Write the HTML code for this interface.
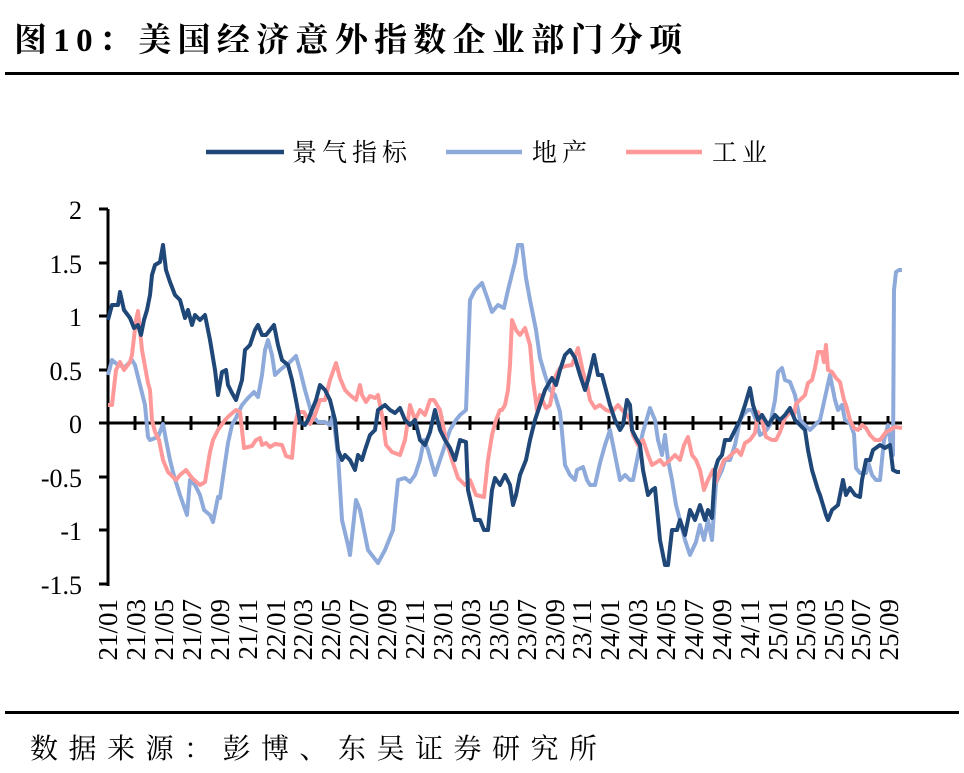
<!DOCTYPE html>
<html><head><meta charset="utf-8"><style>
body{margin:0;background:#fff;}
svg{display:block;}
</style></head><body>
<svg width="964" height="773" xmlns="http://www.w3.org/2000/svg" font-family="'Liberation Serif','Noto Serif CJK SC',serif">
<text x="14" y="51" font-size="33" font-weight="bold" letter-spacing="6.3" fill="#000" font-family="'Liberation Serif','Noto Serif CJK SC',serif">图10：美国经济意外指数企业部门分项</text>
<rect x="5" y="72" width="954" height="3" fill="#000"/>
<rect x="5" y="711" width="954" height="3" fill="#000"/>
<text x="30" y="758" font-size="28" letter-spacing="10.5" fill="#000">数据来源：彭博、东吴证券研究所</text>

<g font-size="25" letter-spacing="5">
<line x1="206" y1="152" x2="284" y2="152" stroke="#1f4778" stroke-width="4.5"/>
<text x="292" y="161">景气指标</text>
<line x1="446" y1="152" x2="522" y2="152" stroke="#8eaadb" stroke-width="4.5"/>
<text x="532" y="161">地产</text>
<line x1="626" y1="152" x2="702" y2="152" stroke="#ff9999" stroke-width="4.5"/>
<text x="712" y="161">工业</text>
</g>

<g font-size="26" text-anchor="end">
<text x="82" y="219">2</text>
<text x="82" y="273">1.5</text>
<text x="82" y="326">1</text>
<text x="82" y="380">0.5</text>
<text x="82" y="433">0</text>
<text x="82" y="487">-0.5</text>
<text x="82" y="540">-1</text>
<text x="82" y="594">-1.5</text>
</g>
<g stroke="#000" stroke-width="3">
<line x1="108" y1="209" x2="108" y2="586"/>
<line x1="99" y1="209" x2="108" y2="209"/>
<line x1="99" y1="263" x2="108" y2="263"/>
<line x1="99" y1="316" x2="108" y2="316"/>
<line x1="99" y1="370" x2="108" y2="370"/>
<line x1="99" y1="477" x2="108" y2="477"/>
<line x1="99" y1="530" x2="108" y2="530"/>
<line x1="99" y1="584" x2="108" y2="584"/>
<line x1="99" y1="423" x2="902" y2="423"/>
</g>
<g stroke="#000" stroke-width="3">
<line x1="135" y1="416" x2="135" y2="430"/><line x1="163" y1="416" x2="163" y2="430"/><line x1="191" y1="416" x2="191" y2="430"/><line x1="219" y1="416" x2="219" y2="430"/><line x1="247" y1="416" x2="247" y2="430"/><line x1="275" y1="416" x2="275" y2="430"/><line x1="302" y1="416" x2="302" y2="430"/><line x1="330" y1="416" x2="330" y2="430"/><line x1="358" y1="416" x2="358" y2="430"/><line x1="386" y1="416" x2="386" y2="430"/><line x1="414" y1="416" x2="414" y2="430"/><line x1="442" y1="416" x2="442" y2="430"/><line x1="470" y1="416" x2="470" y2="430"/><line x1="498" y1="416" x2="498" y2="430"/><line x1="526" y1="416" x2="526" y2="430"/><line x1="554" y1="416" x2="554" y2="430"/><line x1="581" y1="416" x2="581" y2="430"/><line x1="609" y1="416" x2="609" y2="430"/><line x1="637" y1="416" x2="637" y2="430"/><line x1="665" y1="416" x2="665" y2="430"/><line x1="693" y1="416" x2="693" y2="430"/><line x1="721" y1="416" x2="721" y2="430"/><line x1="749" y1="416" x2="749" y2="430"/><line x1="777" y1="416" x2="777" y2="430"/><line x1="805" y1="416" x2="805" y2="430"/><line x1="833" y1="416" x2="833" y2="430"/><line x1="860" y1="416" x2="860" y2="430"/><line x1="888" y1="416" x2="888" y2="430"/>
</g>
<g font-size="27" text-anchor="end">
<text transform="translate(117,599) rotate(-90)">21/01</text>
<text transform="translate(145,599) rotate(-90)">21/03</text>
<text transform="translate(173,599) rotate(-90)">21/05</text>
<text transform="translate(201,599) rotate(-90)">21/07</text>
<text transform="translate(229,599) rotate(-90)">21/09</text>
<text transform="translate(257,599) rotate(-90)">21/11</text>
<text transform="translate(285,599) rotate(-90)">22/01</text>
<text transform="translate(312,599) rotate(-90)">22/03</text>
<text transform="translate(340,599) rotate(-90)">22/05</text>
<text transform="translate(368,599) rotate(-90)">22/07</text>
<text transform="translate(396,599) rotate(-90)">22/09</text>
<text transform="translate(424,599) rotate(-90)">22/11</text>
<text transform="translate(452,599) rotate(-90)">23/01</text>
<text transform="translate(480,599) rotate(-90)">23/03</text>
<text transform="translate(508,599) rotate(-90)">23/05</text>
<text transform="translate(536,599) rotate(-90)">23/07</text>
<text transform="translate(564,599) rotate(-90)">23/09</text>
<text transform="translate(591,599) rotate(-90)">23/11</text>
<text transform="translate(619,599) rotate(-90)">24/01</text>
<text transform="translate(647,599) rotate(-90)">24/03</text>
<text transform="translate(675,599) rotate(-90)">24/05</text>
<text transform="translate(703,599) rotate(-90)">24/07</text>
<text transform="translate(731,599) rotate(-90)">24/09</text>
<text transform="translate(759,599) rotate(-90)">24/11</text>
<text transform="translate(787,599) rotate(-90)">25/01</text>
<text transform="translate(815,599) rotate(-90)">25/03</text>
<text transform="translate(843,599) rotate(-90)">25/05</text>
<text transform="translate(870,599) rotate(-90)">25/07</text>
<text transform="translate(898,599) rotate(-90)">25/09</text>
</g>

<g fill="none" stroke-width="4" stroke-linejoin="round">
<polyline stroke="#8eaadb" points="108,375 112,360 118,365 125,367 132,360 135,365 140,385 145,405 148,437 150,440 158,437 160,432 163,424 166,440 170,460 174,476 180,495 187,515 190,480 195,485 200,495 204,510 210,515 213,522 218,497 220,498 224,470 228,443 232,425 236,418 242,405 248,398 254,392 258,397 262,375 265,350 268,340 272,355 275,375 280,370 285,366 290,362 296,356 300,370 305,390 312,415 318,422 325,422 330,425 333,415 338,455 342,520 348,545 350,555 356,500 360,510 368,550 378,563 385,550 393,530 398,480 405,478 410,482 415,475 420,460 424,440 428,450 435,475 440,460 445,445 450,430 456,420 460,415 466,410 470,300 475,290 482,283 488,300 492,312 498,305 504,308 508,290 515,262 518,245 522,245 526,278 530,300 536,330 540,358 545,375 550,390 555,395 560,412 562,432 565,465 570,475 575,480 577,470 583,467 587,480 590,485 595,485 600,463 605,445 610,430 615,455 620,480 625,475 630,480 633,480 640,445 643,432 645,425 650,408 655,420 658,440 662,455 665,435 668,460 672,480 676,505 680,520 685,540 690,555 696,542 700,525 704,540 708,520 712,540 716,483 722,470 725,460 730,460 735,445 740,420 743,415 748,410 752,410 756,420 760,435 765,432 770,425 775,400 778,372 782,368 785,380 790,382 795,395 800,420 805,425 810,430 815,425 820,420 826,393 830,375 835,400 838,410 842,405 845,420 850,423 854,434 856,468 860,473 866,473 868,462 872,475 876,480 880,480 884,440 888,425 890,440 893,455 894,290 896,272 899,270 902,270"/>
<polyline stroke="#ff9999" points="108,405 112,405 116,370 120,362 124,370 130,362 132,355 136,320 138,311 142,350 148,383 150,390 152,420 155,432 159,440 163,460 168,472 176,480 180,475 186,470 192,478 200,485 205,482 210,452 213,440 218,430 225,420 230,415 236,410 240,412 244,448 248,447 252,446 256,440 260,438 262,445 266,443 270,447 275,444 282,445 286,456 292,458 295,425 298,412 304,412 310,424 315,415 320,400 325,400 330,380 336,363 340,378 345,390 350,395 356,400 360,385 362,395 366,402 370,396 375,398 378,395 382,415 386,445 392,452 400,455 405,440 408,420 410,405 415,420 420,410 425,415 430,400 434,400 440,410 446,440 452,460 458,478 465,485 470,480 476,495 484,497 488,460 492,435 496,420 500,410 502,410 505,405 508,390 510,365 512,320 516,330 520,335 525,328 530,345 533,380 537,410 540,395 546,408 550,405 556,375 560,368 566,366 572,365 578,348 583,372 587,385 590,400 595,408 600,405 606,410 612,412 618,405 622,410 626,414 630,420 633,435 638,445 643,440 648,455 652,465 657,462 660,460 664,465 670,460 675,455 680,460 684,445 688,437 692,455 696,460 700,470 704,490 708,480 713,470 716,482 720,470 724,460 728,458 733,453 737,450 741,455 745,443 750,440 755,433 758,412 762,420 766,437 772,440 776,440 780,432 785,418 790,412 794,415 796,404 800,400 805,395 808,383 812,380 815,368 818,352 822,352 824,362 826,345 828,370 832,372 836,378 840,382 844,400 846,405 850,420 854,428 858,430 862,425 866,428 870,435 875,440 880,440 886,432 890,430 895,427 902,428"/>
<polyline stroke="#1f4778" points="108,320 112,305 118,305 120,292 124,310 130,318 134,328 138,325 141,335 144,320 147,310 150,295 152,275 155,265 160,262 163,245 166,270 170,282 175,295 180,300 185,318 188,310 192,325 195,315 200,320 205,315 210,340 215,370 218,395 222,372 226,370 228,385 232,393 236,400 242,380 245,350 250,345 255,330 258,325 262,335 266,335 270,330 274,325 278,345 282,360 288,365 292,380 296,400 300,422 305,425 308,420 312,410 316,400 320,385 325,390 330,400 335,420 338,450 342,460 345,455 350,460 355,470 358,455 362,460 365,450 370,435 375,430 378,410 385,405 390,410 395,413 400,408 405,420 410,425 415,420 420,440 425,445 430,432 435,410 440,430 445,440 450,448 455,460 460,440 466,442 468,490 475,520 480,520 484,530 488,530 492,490 495,478 500,485 505,475 510,485 513,505 516,495 520,475 526,460 530,440 535,420 540,405 545,390 552,378 556,385 560,370 565,355 570,350 575,358 580,375 585,390 588,380 594,355 598,375 602,375 610,405 615,420 620,430 623,425 627,400 630,405 632,430 636,438 640,445 643,470 648,495 652,490 655,488 660,540 665,565 668,565 672,530 677,530 680,520 685,535 690,510 695,520 700,505 705,520 708,510 712,518 715,470 718,460 722,455 725,440 730,440 735,430 740,420 745,405 750,388 753,405 758,420 762,415 768,425 775,415 780,420 785,415 790,408 795,420 800,425 805,430 808,450 812,470 818,490 820,495 826,515 828,520 832,510 838,505 843,480 846,495 850,488 855,495 860,497 862,480 866,460 870,460 873,450 880,445 885,448 890,445 893,470 897,472 900,472"/>
</g>
</svg>
</body></html>
